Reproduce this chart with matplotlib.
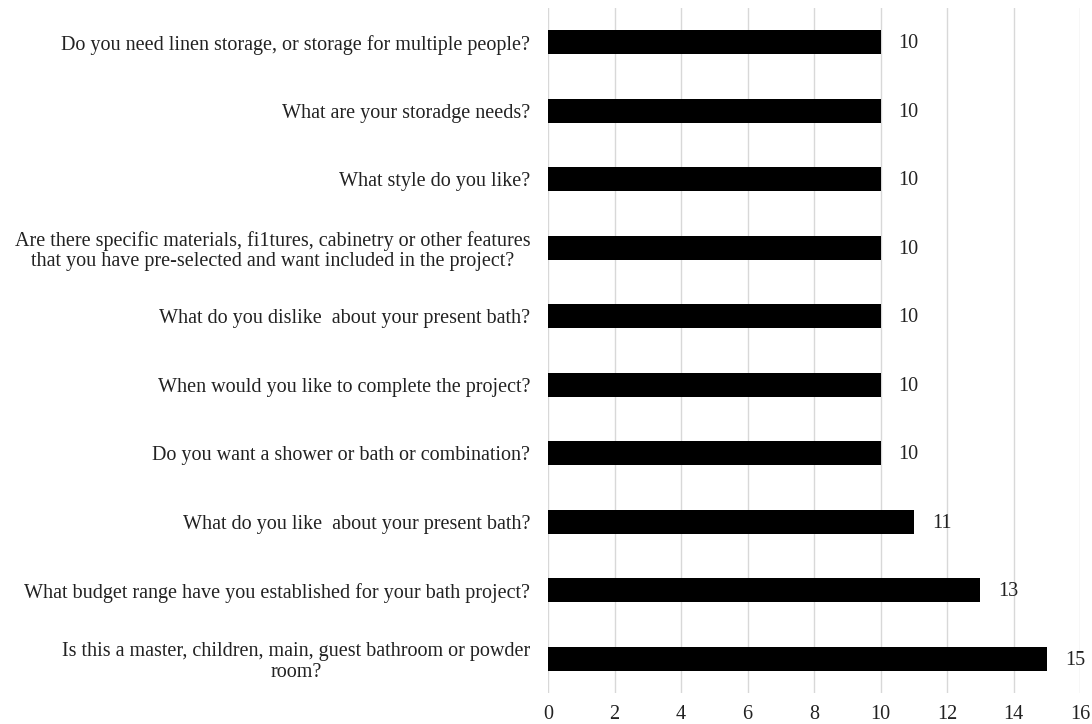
import matplotlib
matplotlib.use("Agg")
import matplotlib.pyplot as plt

categories = [
    "Do you need linen storage, or storage for multiple people?",
    "What are your storadge needs?",
    "What style do you like?",
    "Are there specific materials, fi1tures, cabinetry or other features\nthat you have pre-selected and want included in the project?",
    "What do you dislike  about your present bath?",
    "When would you like to complete the project?",
    "Do you want a shower or bath or combination?",
    "What do you like  about your present bath?",
    "What budget range have you established for your bath project?",
    "Is this a master, children, main, guest bathroom or powder\nroom?",
]
values = [10, 10, 10, 10, 10, 10, 10, 11, 13, 15]
xticks = [0, 2, 4, 6, 8, 10, 12, 14, 16]

plt.rcParams['font.family'] = ['Liberation Serif', 'DejaVu Serif']
fig = plt.figure(figsize=(10.92, 7.24), dpi=100)
ax = fig.add_axes([0.502, 0.043, 0.487, 0.946])

ypos = list(range(len(categories)))
ax.barh(ypos, values, height=0.35, color='black', zorder=3)
ax.set_ylim(len(categories) - 0.5, -0.5)
ax.set_xlim(0, 16)
ax.set_xticks(xticks)
ax.set_xticklabels([str(t) for t in xticks], fontsize=14.5, color='#222222')
ax.set_yticks(ypos)
ax.set_yticklabels(categories, fontsize=14.5, color='#222222',
                   multialignment='center', linespacing=1.12)
ax.tick_params(axis='both', length=0)
ax.tick_params(axis='x', pad=9)
ax.tick_params(axis='y', pad=13)
ax.grid(axis='x', color='#d8d8d8', linewidth=1.0, zorder=0)
for s in ax.spines.values():
    s.set_visible(False)

for y, v in zip(ypos, values):
    ax.annotate(str(v), xy=(v, y), xytext=(13, -1), textcoords='offset points',
                va='center', ha='left', fontsize=14.5, color='#222222')

fig.savefig("out.png", dpi=100)
